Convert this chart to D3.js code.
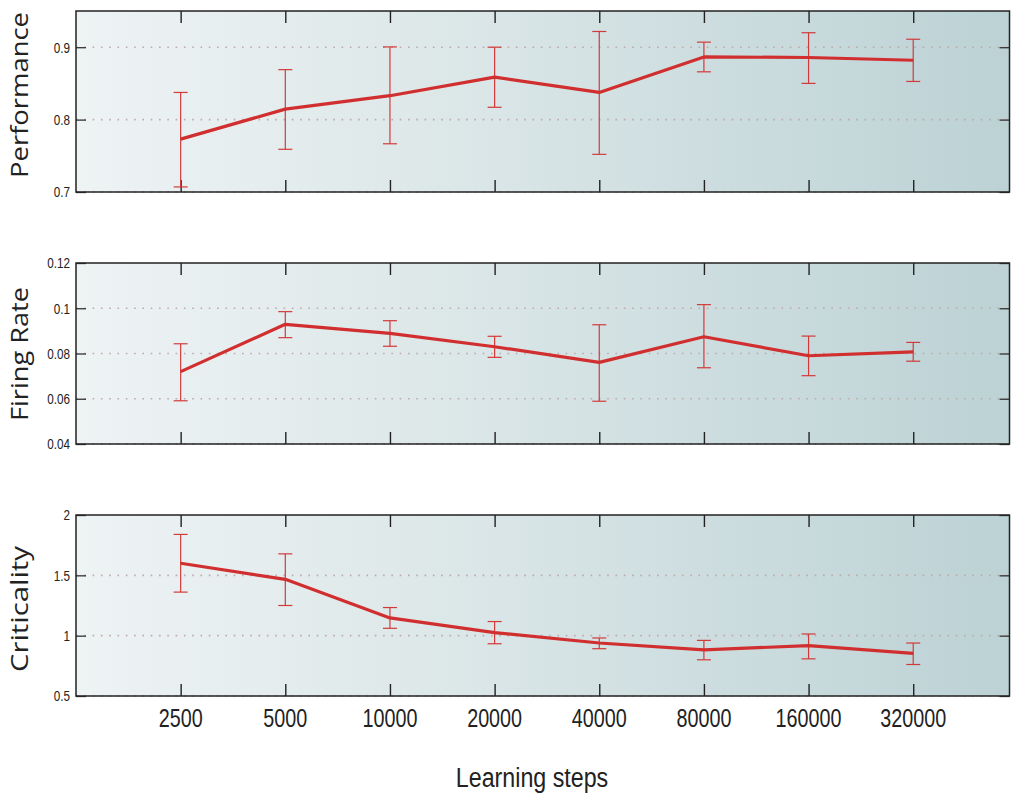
<!DOCTYPE html>
<html>
<head>
  <meta charset="utf-8">
  <title>Learning steps panels</title>
  <script src="https://d3js.org/d3.v7.min.js"></script>
  <style>
    body { margin: 0; background: #fff; }
    .tick-label { font-family: "Liberation Sans", Arial, sans-serif; fill: #222; }
    .panel-title { font-family: "Open Sans", sans-serif; fill: #222; }
  </style>
</head>
<body>
<svg id="chart"></svg>
<script>
const steps = [2500, 5000, 10000, 20000, 40000, 80000, 160000, 320000];

const perfMean = [0.773, 0.8145, 0.833, 0.8586, 0.8375, 0.8866, 0.8858, 0.882];
const perfHi   = [0.8375, 0.869, 0.9004, 0.900, 0.9217, 0.907, 0.920, 0.911];
const perfLo   = [0.707, 0.759, 0.7666, 0.817, 0.752, 0.866, 0.850, 0.8527];

const rateMean = [0.072, 0.0929, 0.0889, 0.083, 0.0761, 0.0874, 0.079, 0.0807];
const rateHi   = [0.0843, 0.0985, 0.0945, 0.0876, 0.0927, 0.1016, 0.0877, 0.0849];
const rateLo   = [0.0591, 0.087, 0.0832, 0.0783, 0.0589, 0.0737, 0.0702, 0.0766];

const critMean = [1.60, 1.467, 1.147, 1.025, 0.939, 0.883, 0.917, 0.853];
const critHi   = [1.839, 1.678, 1.233, 1.117, 0.981, 0.961, 1.014, 0.939];
const critLo   = [1.361, 1.25, 1.061, 0.933, 0.892, 0.80, 0.808, 0.761];

const panels = [
  { title: "Performance", domain: [0.7, 0.95], ticks: [0.7, 0.8, 0.9], fmt: d => d3.format(".1f")(d), mean: perfMean, hi: perfHi, lo: perfLo },
  { title: "Firing Rate", domain: [0.04, 0.12], ticks: [0.04, 0.06, 0.08, 0.1, 0.12], fmt: d => String(+d.toFixed(2)), mean: rateMean, hi: rateHi, lo: rateLo },
  { title: "Criticality", domain: [0.5, 2], ticks: [0.5, 1, 1.5, 2], fmt: d => String(d), mean: critMean, hi: critHi, lo: critLo }
];

const W = 1012, H = 794;
const left = 76, right = 1009.5;
const tops = [11, 263, 515], ph = 181;
// title placement (center along the rotated axis, length of text)
const titleBox = [{ cy: 95, len: 166 }, { cy: 354, len: 134 }, { cy: 609, len: 126 }];

const svg = d3.select("#chart").attr("width", W).attr("height", H);

const grad = svg.append("defs").append("linearGradient")
  .attr("id", "bg").attr("x1", 0).attr("x2", 1).attr("y1", 0).attr("y2", 0);
grad.append("stop").attr("offset", "0%").attr("stop-color", "#eef3f4");
grad.append("stop").attr("offset", "40%").attr("stop-color", "#dce7e8");
grad.append("stop").attr("offset", "100%").attr("stop-color", "#bcd2d5");

const x = d3.scaleLog().base(2).domain([1250, 2500 * Math.pow(2, 7.92)]).range([left, right]);

panels.forEach((p, k) => {
  const top = tops[k];
  const y = d3.scaleLinear().domain(p.domain).range([top + ph, top]);
  const g = svg.append("g");

  g.append("rect").attr("x", left).attr("y", top)
    .attr("width", right - left).attr("height", ph).attr("fill", "url(#bg)");

  // dotted grid
  g.selectAll(".grid").data(p.ticks.filter(t => t < p.domain[1])).enter().append("line")
    .attr("x1", left).attr("x2", right)
    .attr("y1", d => y(d)).attr("y2", d => y(d))
    .attr("stroke", "#bfa9aa").attr("stroke-width", 1.6)
    .attr("stroke-dasharray", "1.6,6.7");

  // y ticks, inward both sides
  g.append("g").attr("transform", `translate(${left},0)`)
    .call(d3.axisRight(y).tickValues(p.ticks).tickSize(10).tickFormat(""))
    .call(s => s.select(".domain").remove())
    .call(s => s.selectAll("line").attr("stroke", "#333").attr("stroke-width", 1.3));
  g.append("g").attr("transform", `translate(${right},0)`)
    .call(d3.axisLeft(y).tickValues(p.ticks).tickSize(10).tickFormat(""))
    .call(s => s.select(".domain").remove())
    .call(s => s.selectAll("line").attr("stroke", "#333").attr("stroke-width", 1.3));

  // y tick labels (condensed)
  g.selectAll(".ylab").data(p.ticks).enter().append("text")
    .attr("class", "tick-label")
    .attr("transform", d => `translate(70,${y(d)}) scale(0.78,1)`)
    .attr("dy", "0.36em").attr("text-anchor", "end")
    .attr("font-size", 15)
    .text(p.fmt);

  // x ticks, inward top and bottom
  g.append("g").attr("transform", `translate(0,${top + ph})`)
    .call(d3.axisTop(x).tickValues(steps).tickSize(12).tickFormat(""))
    .call(s => s.select(".domain").remove())
    .call(s => s.selectAll("line").attr("stroke", "#222").attr("stroke-width", 1.4));
  g.append("g").attr("transform", `translate(0,${top})`)
    .call(d3.axisBottom(x).tickValues(steps).tickSize(12).tickFormat(""))
    .call(s => s.select(".domain").remove())
    .call(s => s.selectAll("line").attr("stroke", "#222").attr("stroke-width", 1.4));

  // frame
  g.append("rect").attr("x", left).attr("y", top)
    .attr("width", right - left).attr("height", ph)
    .attr("fill", "none").attr("stroke", "#222").attr("stroke-width", 1.5);

  // error bars
  const eb = g.selectAll(".eb").data(steps).enter().append("g").attr("stroke", "#d23a3a").attr("stroke-width", 1.2);
  eb.append("line").attr("x1", d => x(d)).attr("x2", d => x(d))
    .attr("y1", (d, i) => y(p.hi[i])).attr("y2", (d, i) => y(p.lo[i]));
  eb.append("line").attr("x1", d => x(d) - 7).attr("x2", d => x(d) + 7)
    .attr("y1", (d, i) => y(p.hi[i])).attr("y2", (d, i) => y(p.hi[i]));
  eb.append("line").attr("x1", d => x(d) - 7).attr("x2", d => x(d) + 7)
    .attr("y1", (d, i) => y(p.lo[i])).attr("y2", (d, i) => y(p.lo[i]));

  // mean line
  g.append("path").datum(steps)
    .attr("fill", "none").attr("stroke", "#d12f2f").attr("stroke-width", 3.2)
    .attr("stroke-linejoin", "round")
    .attr("d", d3.line().x(d => x(d)).y((d, i) => y(p.mean[i])));

  // title
  g.append("text").attr("class", "panel-title")
    .attr("transform", `translate(28,${titleBox[k].cy}) rotate(-90)`)
    .attr("text-anchor", "middle").attr("font-size", 23)
    .attr("textLength", titleBox[k].len).attr("lengthAdjust", "spacingAndGlyphs")
    .text(p.title);
});

// x tick labels (condensed)
svg.selectAll(".xlab").data(steps).enter().append("text")
  .attr("class", "tick-label")
  .attr("transform", d => `translate(${x(d)},727) scale(0.76,1)`)
  .attr("text-anchor", "middle").attr("font-size", 26)
  .text(d => d);

svg.append("text").attr("class", "tick-label")
  .attr("transform", "translate(532,787) scale(0.83,1)")
  .attr("text-anchor", "middle")
  .attr("font-size", 28)
  .text("Learning steps");
</script>
</body>
</html>
